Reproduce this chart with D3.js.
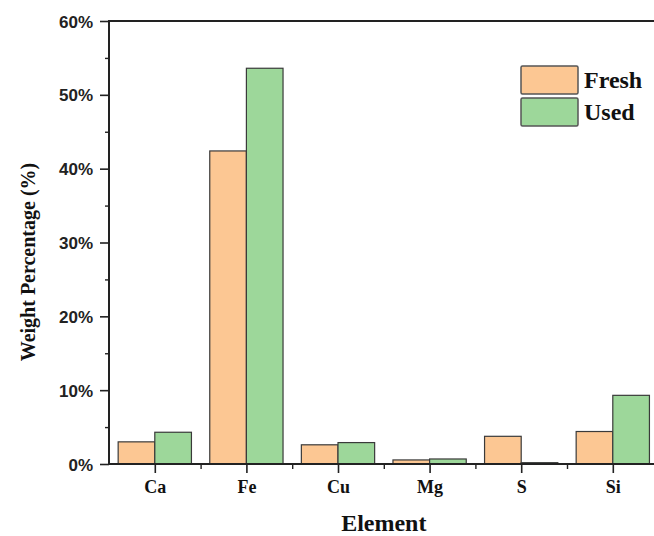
<!DOCTYPE html>
<html><head><meta charset="utf-8">
<script src="https://cdn.jsdelivr.net/npm/d3@7/dist/d3.min.js"></script>
<style>body{margin:0;background:#fff}svg{display:block}</style>
</head><body>
<svg id="c" width="654" height="536"></svg>
<script>
const categories = ["Ca","Fe","Cu","Mg","S","Si"];
const seriesNames = ["Fresh","Used"];
const fresh = [3.0, 42.4, 2.6, 0.55, 3.75, 4.4];
const used = [4.3, 53.6, 2.9, 0.68, 0.18, 9.3];
const yTicks = [0,10,20,30,40,50,60];
const colors = ["#FCC793","#9DD79A"];

const svg = d3.select("#c");
const pLeft = 109, pTop = 21, pBottom = 464;
const spacing = 91.6;
const x = d3.scaleLinear().domain([0.5, 6.5]).range([pLeft, pLeft + 6*spacing]);
const y = d3.scaleLinear().domain([0,60]).range([pBottom, pTop]);
const bw = spacing*0.4;

const data = categories.map((c,i)=>({c, i:i+1, v:[fresh[i], used[i]]}));
const g = svg.append("g");
data.forEach(d=>{
  d.v.forEach((v,k)=>{
    g.append("rect")
      .attr("x", k===0 ? x(d.i)-bw : x(d.i))
      .attr("y", y(v))
      .attr("width", bw)
      .attr("height", y(0)-y(v))
      .attr("fill", colors[k])
      .attr("stroke", "#3a3a3a")
      .attr("stroke-width", 1.2);
  });
});

// Y axis
const yAxis = d3.axisLeft(y).tickValues(yTicks).tickSize(9).tickFormat(d=>d+"%");
const ya = svg.append("g").attr("transform",`translate(${pLeft},0)`).call(yAxis);
ya.select(".domain").remove();
ya.selectAll(".tick line").attr("stroke","#222").attr("stroke-width",1.6);
ya.selectAll(".tick text").attr("x",-16).attr("dy","0.36em").attr("font-family","'Liberation Sans', Arial, sans-serif")
  .attr("font-weight","bold").attr("font-size",17).attr("fill","#222");
const yMinor = d3.axisLeft(y).tickValues([5,15,25,35,45,55]).tickSize(4).tickFormat("");
const ym = svg.append("g").attr("transform",`translate(${pLeft},0)`).call(yMinor);
ym.select(".domain").remove();
ym.selectAll(".tick line").attr("stroke","#222").attr("stroke-width",1.4);

// X axis
const xAxis = d3.axisBottom(x).tickValues(d3.range(1,7)).tickSize(9).tickFormat(d=>categories[d-1]);
const xa = svg.append("g").attr("transform",`translate(0,${pBottom})`).call(xAxis);
xa.select(".domain").remove();
xa.selectAll(".tick line").attr("stroke","#222").attr("stroke-width",1.6);
xa.selectAll(".tick text").attr("y",16).attr("font-family","'Liberation Serif', 'Times New Roman', serif")
  .attr("font-weight","bold").attr("font-size",18).attr("fill","#111");
const xMinor = d3.axisBottom(x).tickValues([1.5,2.5,3.5,4.5,5.5]).tickSize(5).tickFormat("");
const xm = svg.append("g").attr("transform",`translate(0,${pBottom})`).call(xMinor);
xm.select(".domain").remove();
xm.selectAll(".tick line").attr("stroke","#222").attr("stroke-width",1.4);

// Frame lines
svg.append("line").attr("x1",pLeft).attr("x2",pLeft).attr("y1",pTop).attr("y2",pBottom).attr("stroke","#222").attr("stroke-width",2);
svg.append("line").attr("x1",pLeft-1).attr("x2",654).attr("y1",pBottom).attr("y2",pBottom).attr("stroke","#222").attr("stroke-width",2);
svg.append("line").attr("x1",pLeft-1).attr("x2",654).attr("y1",pTop).attr("y2",pTop).attr("stroke","#222").attr("stroke-width",2);

// Axis titles
svg.append("text").attr("x",(pLeft+x(6.5))/2).attr("y",531).attr("text-anchor","middle")
  .attr("font-family","'Liberation Serif', 'Times New Roman', serif").attr("font-weight","bold").attr("font-size",24).attr("fill","#111")
  .text("Element");
svg.append("text").attr("transform","translate(35,262) rotate(-90)").attr("text-anchor","middle")
  .attr("font-family","'Liberation Serif', 'Times New Roman', serif").attr("font-weight","bold").attr("font-size",20).attr("fill","#111")
  .text("Weight Percentage (%)");

// Legend
seriesNames.forEach((s,k)=>{
  const ly = 66 + k*32;
  svg.append("rect").attr("x",521).attr("y",ly).attr("width",57).attr("height",28)
    .attr("fill",colors[k]).attr("stroke","#555").attr("stroke-width",1.5).attr("rx",1.5);
  svg.append("text").attr("x",584).attr("y",ly+22).attr("font-family","'Liberation Serif', 'Times New Roman', serif")
    .attr("font-weight","bold").attr("font-size",24).attr("fill","#111").text(s);
});
</script>
</body></html>
